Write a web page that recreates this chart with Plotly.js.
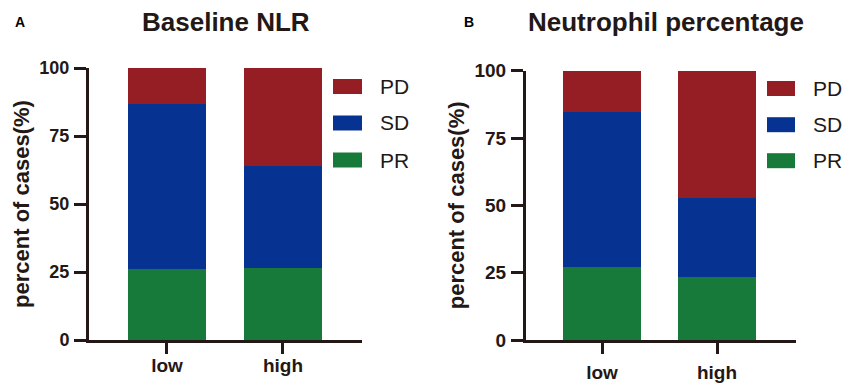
<!DOCTYPE html>
<html>
<head>
<meta charset="utf-8">
<script src="https://cdn.plot.ly/plotly-3.0.1.min.js"></script>
<style>html,body{margin:0;padding:0;background:#fff;}#chart{width:843px;height:383px;}</style>
</head>
<body>
<div id="chart"></div>
<script>
// ---- data ----
var categories = ["low", "high"];
var seriesNames = ["PR", "SD", "PD"];
var seriesColors = ["#177A3A", "#063391", "#941E24"];
// Panel A: Baseline NLR
var nlrPR = [26.1, 26.5];
var nlrSD = [60.8, 37.6];
var nlrPD = [13.1, 35.9];
// Panel B: Neutrophil percentage
var neuPR = [27.1, 23.5];
var neuSD = [57.6, 29.3];
var neuPD = [15.3, 47.2];
var yTicks = [0, 25, 50, 75, 100];
var panelTitles = ["Baseline NLR", "Neutrophil percentage"];
var panelLetters = ["A", "B"];
var yTitle = "percent of cases(%)";

var FONT = "Arial, 'Liberation Sans', Helvetica, sans-serif";
var INK = "#231815";
var W = 843, H = 383;

var dataA = [nlrPR, nlrSD, nlrPD];
var dataB = [neuPR, neuSD, neuPD];
var traces = [];
[dataA, dataB].forEach(function (set, p) {
  set.forEach(function (vals, i) {
    traces.push({
      type: "bar",
      x: categories,
      y: vals,
      name: seriesNames[i],
      xaxis: p === 0 ? "x" : "x2",
      yaxis: p === 0 ? "y" : "y2",
      marker: { color: seriesColors[i], line: { width: 0 } },
      showlegend: false,
      hoverinfo: "x+y+name"
    });
  });
});

function px(x) { return x / W; }
function py(y) { return 1 - y / H; }

function xAxis(d0, d1, r0, r1, standoff) {
  return {
    domain: [px(d0), px(d1)],
    range: [r0, r1],
    type: "category",
    showline: true, linewidth: 3, linecolor: INK,
    ticks: "outside", ticklen: 11, tickwidth: 3, tickcolor: INK,
    showgrid: false, zeroline: false, fixedrange: true,
    ticklabelstandoff: standoff,
    tickfont: { family: FONT, size: 19, color: INK, weight: "bold" }
  };
}
function yAxis(d0, d1, anchor, fsize) {
  return {
    domain: [py(d0), py(d1)],
    range: [0, 100],
    anchor: anchor,
    tickvals: yTicks,
    showline: true, linewidth: 3, linecolor: INK,
    ticks: "outside", ticklen: 12, tickwidth: 3, tickcolor: INK,
    showgrid: false, zeroline: false, fixedrange: true,
    ticklabelstandoff: 1,
    tickfont: { family: FONT, size: fsize, color: INK, weight: "bold" },
    title: { text: yTitle, font: { family: FONT, size: 22, color: INK, weight: "bold" }, standoff: 4 }
  };
}

var layout = {
  width: W, height: H, autosize: false,
  margin: { l: 0, r: 0, t: 0, b: 0 },
  paper_bgcolor: "#fff", plot_bgcolor: "#fff",
  barmode: "stack",
  bargap: 0.33,
  showlegend: false,
  font: { family: FONT, color: INK },
  xaxis: Object.assign(xAxis(89, 362, -0.672, 1.681, -5), { anchor: "y" }),
  yaxis: yAxis(340, 68, "x", 18),
  xaxis2: Object.assign(xAxis(526, 796, -0.661, 1.687, 2), { anchor: "y2" }),
  yaxis2: yAxis(340, 70.7, "x2", 19),
  shapes: [],
  annotations: []
};

// Panel titles and letters
var titleX = [226, 666];
var letterX = [20, 469];
for (var p = 0; p < 2; p++) {
  layout.annotations.push({
    xref: "paper", yref: "paper", x: px(titleX[p]), y: py(22),
    xanchor: "center", yanchor: "middle", showarrow: false,
    text: panelTitles[p], font: { family: FONT, size: 26, color: INK, weight: "bold" }
  });
  layout.annotations.push({
    xref: "paper", yref: "paper", x: px(letterX[p]), y: py(22),
    xanchor: "center", yanchor: "middle", showarrow: false,
    text: panelLetters[p], font: { family: FONT, size: 14, color: "#000", weight: "bold" }
  });
}

// Legends (PD, SD, PR top to bottom)
var legBoxX = [[333, 362], [767, 795]];
var legTextX = [378, 811];
var legCY = [[86.5, 123, 160], [88.5, 124.7, 160.7]];
for (var p2 = 0; p2 < 2; p2++) {
  for (var k = 0; k < 3; k++) {
    var si = 2 - k;
    var cy = legCY[p2][k];
    layout.shapes.push({
      type: "rect", xref: "paper", yref: "paper",
      x0: px(legBoxX[p2][0]), x1: px(legBoxX[p2][1]),
      y0: py(cy + 7.5), y1: py(cy - 7.5),
      fillcolor: seriesColors[si], line: { width: 0 }
    });
    layout.annotations.push({
      xref: "paper", yref: "paper", x: px(legTextX[p2]), y: py(cy),
      xanchor: "left", yanchor: "middle", showarrow: false,
      text: seriesNames[si], font: { family: FONT, size: 21, color: INK }
    });
  }
}

Plotly.newPlot("chart", traces, layout, { displayModeBar: false, staticPlot: true });
</script>
</body>
</html>
